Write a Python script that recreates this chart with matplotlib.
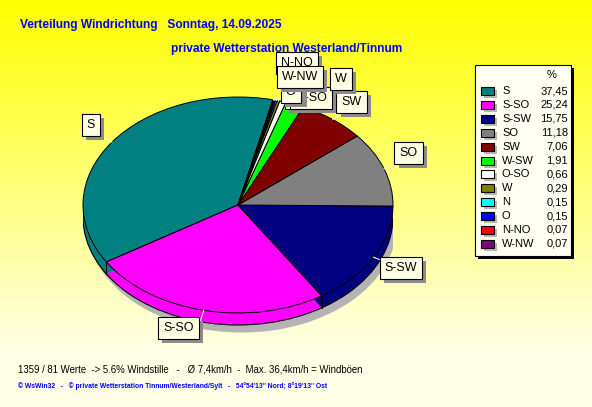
import numpy as np
import matplotlib.pyplot as plt
from matplotlib.patches import Rectangle, Ellipse, Arc
import matplotlib.patheffects as pe

# wind direction shares (percent), in the order of the legend
directions = ["S", "S-SO", "S-SW", "SO", "SW", "W-SW", "O-SO", "W", "N", "O", "N-NO", "W-NW"]
shares = [37.45, 25.24, 15.75, 11.18, 7.06, 1.91, 0.66, 0.29, 0.15, 0.15, 0.07, 0.07]
colors = ["#008080", "#ff00ff", "#000080", "#808080", "#800000", "#00ff00",
          "#ffffff", "#808000", "#00ffff", "#0000ff", "#ff0000", "#800080"]

title = "Verteilung Windrichtung   Sonntag, 14.09.2025"
subtitle = "private Wetterstation Westerland/Tinnum"
stats_line = "1359 / 81 Werte  -> 5.6% Windstille   -   Ø 7,4km/h  -  Max. 36,4km/h = Windböen"
footer = "© WsWin32   -   © private Wetterstation Tinnum/Westerland/Sylt   -   54°54'13'' Nord; 8°19'13'' Ost"

# moved labels (pie units), as the original program stacked them
label_pos = {"N-NO": (0.38, 1.315), "W-NW": (0.40, 1.185), "W": (0.665, 1.167),
             "N": (0.36, 1.05), "O": (0.34, 1.05), "O-SO": (0.47, 0.99), "W-SW": (0.45, 0.99),
             "S-SO": (-0.385, -1.14), "SO": (1.10, 0.48), "S": (-0.95, 0.74)}

W, H = 592, 407
plt.rcParams["font.family"] = ["Liberation Sans", "DejaVu Sans"]

fig = plt.figure(figsize=(W / 100, H / 100), dpi=100)

# background with yellow gradient, pixel coordinates
bg = fig.add_axes([0, 0, 1, 1])
grad = np.linspace(0, 1, 256).reshape(-1, 1)
top = np.array([1.0, 1.0, 0.0])
bot = np.array([1.0, 1.0, 0.91])
img = top + (bot - top) * np.clip(grad * 1.15, 0, 1)[..., None]
img = np.repeat(img, 2, axis=1)
bg.imshow(img, extent=(0, W, H, 0), aspect="auto")
bg.set_xlim(0, W)
bg.set_ylim(H, 0)
bg.axis("off")

bg.text(20, 25, title, color="#0000ff", fontsize=8.6, fontweight="bold", va="center")
bg.text(171, 49, subtitle, color="#0000ff", fontsize=8.6, fontweight="bold", va="center")
bg.text(18, 369, stats_line, color="black", fontsize=6.9, va="center")
bg.text(18, 386, footer, color="#0000ff", fontsize=4.9, fontweight="bold", va="center")

# legend
bg.add_patch(Rectangle((478, 68), 96, 191, fc="black", ec="none"))
bg.add_patch(Rectangle((475, 65), 96, 191, fc="#fffff4", ec="black", lw=0.8))
bg.text(552, 75, "%", fontsize=8, ha="center", va="center")
for i, (d, s, c) in enumerate(zip(directions, shares, colors)):
    y = 91 + i * 13.9
    bg.add_patch(Rectangle((484, y - 1), 13, 8, fc="#b8b8b8", ec="none"))
    bg.add_patch(Rectangle((481, y - 4), 13, 8, fc=c, ec="black", lw=0.8))
    bg.text(502, y, d, fontsize=8, va="center")
    bg.text(568, y, f"{s:.2f}".replace(".", ","), fontsize=8, va="center", ha="right")

# pie axes: one unit = 155 px across, 108 px down
cx, cy, rx, ry = 238, 205, 155, 108
ylo = -1.25
ax = fig.add_axes([(cx - rx) / W, (H - (cy - ylo * ry)) / H, 2 * rx / W, (1 - ylo) * ry / H])
depth = 12 / ry
start = 77

ax.add_patch(Ellipse((0.025, -depth - 0.07), 2, 2, fc="#b4b4b4", ec="none", zorder=0))
ax.pie(shares, colors=colors, startangle=start, center=(0, -depth),
       wedgeprops=dict(edgecolor="none"))
ax.add_patch(Arc((0, -depth), 2, 2, theta1=180, theta2=360, color="black", lw=0.8, zorder=2))
ax.vlines([-1, 1], -depth, 0, color="black", lw=0.8, zorder=2)
bounds = start + np.cumsum([0] + shares) * 3.6
for b in bounds:
    if np.sin(np.radians(b)) < 0:
        x = np.cos(np.radians(b))
        y = np.sin(np.radians(b))
        ax.plot([x, x], [y, y - depth], color="black", lw=0.8, zorder=2)

wedges, texts = ax.pie(shares, colors=colors, startangle=start, labels=directions,
                       labeldistance=1.2, textprops=dict(fontsize=9),
                       wedgeprops=dict(edgecolor="black", linewidth=0.7))
for w in wedges:
    w.set_zorder(3)

mids = np.radians((bounds[:-1] + bounds[1:]) / 2)
for m in mids:
    ax.plot([np.cos(m), 1.12 * np.cos(m)], [np.sin(m), 1.12 * np.sin(m)],
            color="#f4f4f4", lw=0.8, zorder=4)

for i, (t, d) in enumerate(zip(texts, directions)):
    if d in label_pos:
        t.set_position(label_pos[d])
    t.set_ha("center")
    t.set_va("center")
    t.set_zorder(10 + i)
    t.set_bbox(dict(boxstyle="square,pad=0.4", fc="#ffffe6", ec="black", lw=0.8))
    t.get_bbox_patch().set_path_effects(
        [pe.SimplePatchShadow(offset=(3, -3), shadow_rgbFace="#8c8c8c", alpha=1), pe.Normal()])

ax.set_aspect("auto")
ax.set_xlim(-1, 1)
ax.set_ylim(ylo, 1)
ax.axis("off")

fig.savefig("out.png", dpi=100)
